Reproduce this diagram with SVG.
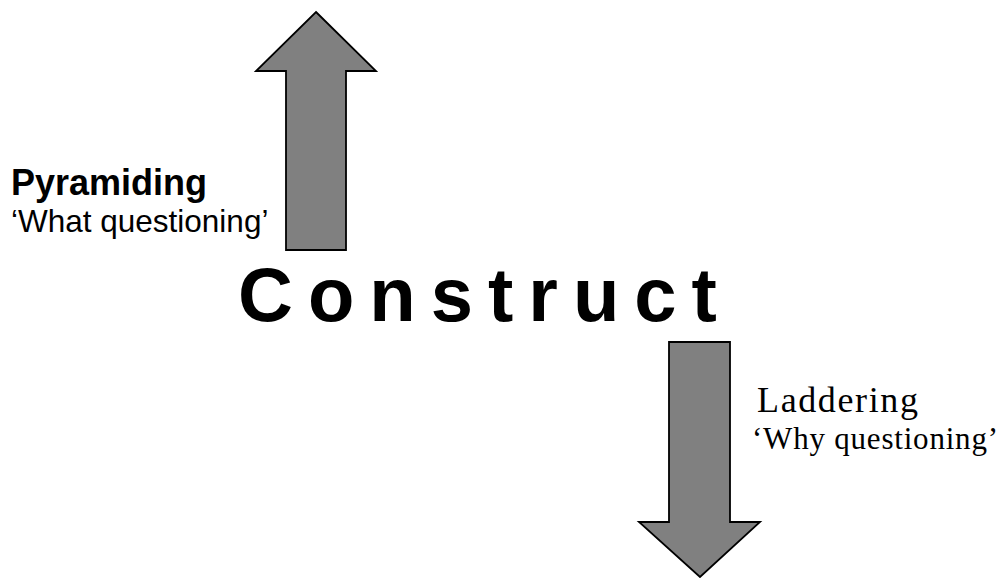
<svg xmlns="http://www.w3.org/2000/svg" width="1005" height="578" viewBox="0 0 1005 578">
<style>
.arrow{fill:#808080;stroke:#000;stroke-width:1.8;stroke-linejoin:miter}
.sans{font-family:"Liberation Sans",Arial,sans-serif;fill:#000}
.serif{font-family:"Liberation Serif","Times New Roman",serif;fill:#000}
</style>
<rect width="1005" height="578" fill="#fff"/>
<g id="connectors">
<polygon id="arrow-up" class="arrow" points="316,12 376,71 346,71 346,250 286,250 286,71 256,71"/>
<polygon id="arrow-down" class="arrow" points="669,342 730,342 730,522 760,522 700,577 639,522 669,522"/>
</g>
<g id="construct">
<text class="sans" x="238" y="321" font-size="76" font-weight="bold" letter-spacing="15">Construct</text>
</g>
<g id="pyramiding">
<text class="sans" x="11" y="195" font-size="36" font-weight="bold">Pyramiding</text>
<text class="sans" x="11" y="232" font-size="31.5">‘What questioning’</text>
</g>
<g id="laddering">
<text class="serif" x="757" y="412" font-size="36" textLength="161" lengthAdjust="spacing">Laddering</text>
<text class="serif" x="752" y="449" font-size="31" textLength="246" lengthAdjust="spacing">‘Why questioning’</text>
</g>
</svg>
